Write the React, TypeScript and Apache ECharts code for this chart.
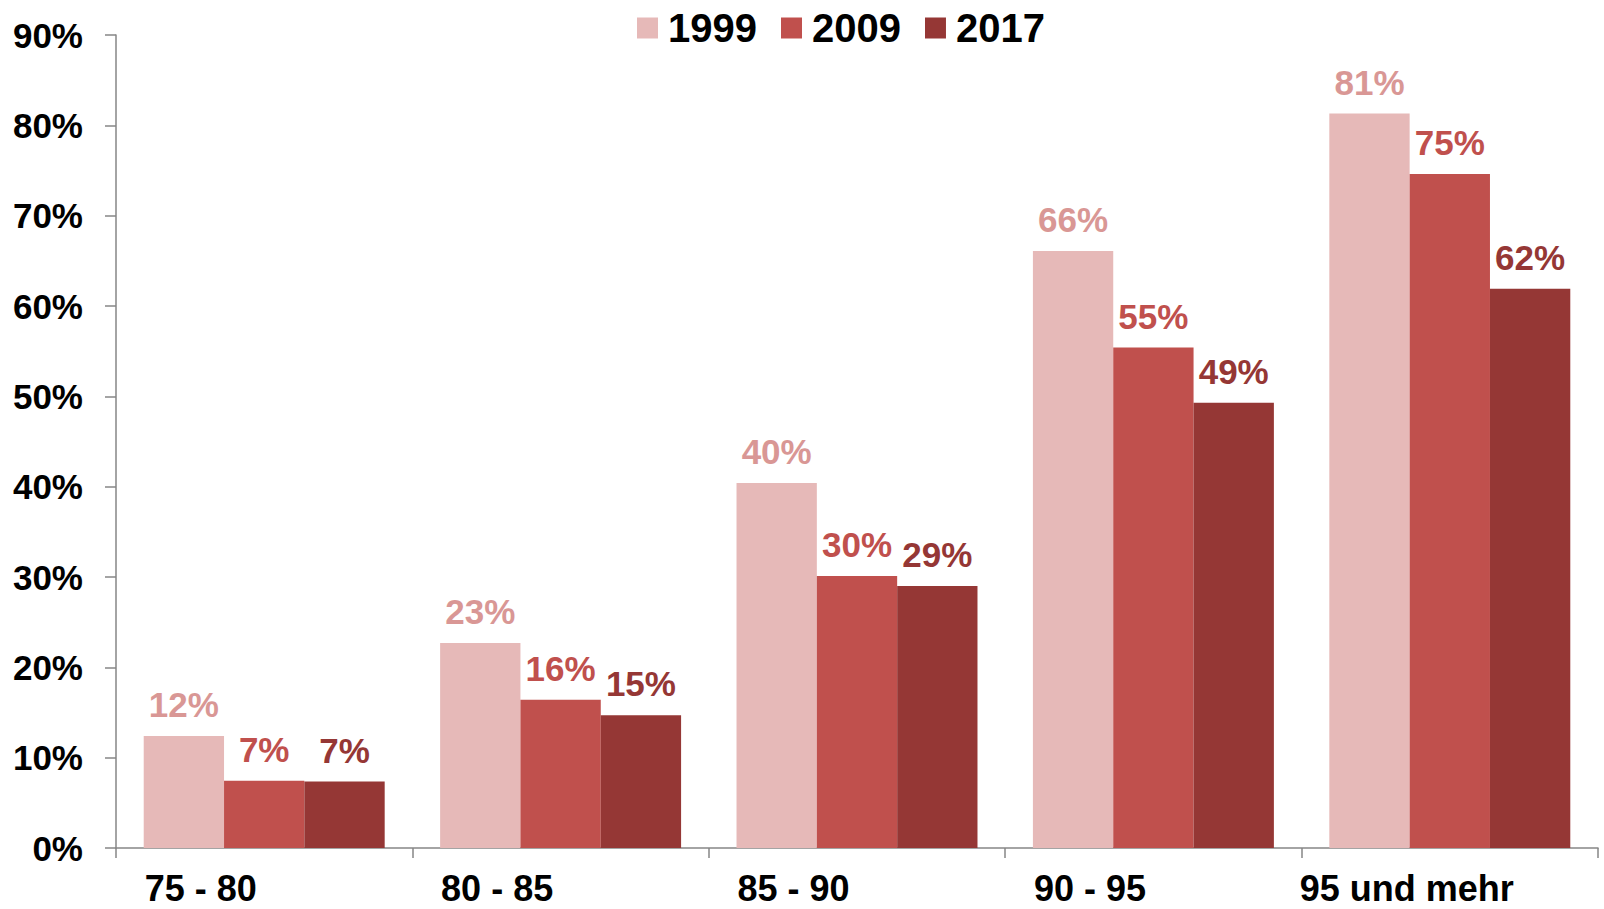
import React, { useEffect, useRef } from "react";
import * as echarts from "echarts";

const categories = ["75 - 80", "80 - 85", "85 - 90", "90 - 95", "95 und mehr"];
const seriesNames = ["1999", "2009", "2017"];
const values1999 = [12.4, 22.7, 40.4, 66.1, 81.3];
const values2009 = [7.45, 16.4, 30.1, 55.4, 74.6];
const values2017 = [7.35, 14.7, 29.0, 49.3, 61.9];
const barColors = ["#E6B9B8", "#C0504D", "#953735"];
const labelColors = ["#D99795", "#C0504D", "#953735"];
const yTicks = [0, 10, 20, 30, 40, 50, 60, 70, 80, 90];

const FONT = "'Liberation Sans', Arial, sans-serif";

export default function App() {
  const ref = useRef<HTMLDivElement>(null);
  useEffect(() => {
    if (!ref.current) return;
    const chart = echarts.init(ref.current, undefined, { renderer: "svg" });
    const allValues = [values1999, values2009, values2017];
    chart.setOption({
      animation: false,
      backgroundColor: "#ffffff",
      textStyle: { fontFamily: FONT },
      legend: {
        left: 632,
        top: 3,
        icon: "rect",
        itemWidth: 21,
        itemHeight: 21,
        itemGap: 24,
        data: seriesNames,
        textStyle: {
          fontFamily: FONT,
          fontWeight: "bold",
          fontSize: 40,
          color: "#000",
          padding: [0, 0, 0, 5],
        },
      },
      grid: { left: 116, right: 6, top: 35, bottom: 61, containLabel: false },
      xAxis: {
        type: "category",
        data: categories,
        axisLine: { lineStyle: { color: "#868686", width: 1.5 } },
        axisTick: { show: true, length: 10, lineStyle: { color: "#868686", width: 1.5 } },
        axisLabel: {
          margin: 22,
          interval: 0,
          formatter: (v: string) =>
            v === categories[categories.length - 1] ? "{b|" + v + "}" : "{a|" + v + "}",
          rich: {
            a: {
              width: 239,
              align: "left",
              fontFamily: FONT,
              fontWeight: "bold",
              fontSize: 36,
              color: "#000",
            },
            b: {
              width: 300,
              align: "left",
              fontFamily: FONT,
              fontWeight: "bold",
              fontSize: 36,
              color: "#000",
            },
          },
        },
      },
      yAxis: {
        type: "value",
        min: yTicks[0],
        max: yTicks[yTicks.length - 1],
        interval: 10,
        splitLine: { show: false },
        axisLine: { show: true, lineStyle: { color: "#868686", width: 1.5 } },
        axisTick: { show: true, length: 11, lineStyle: { color: "#868686", width: 1.5 } },
        axisLabel: {
          margin: 33,
          formatter: "{value}%",
          fontFamily: FONT,
          fontWeight: "bold",
          fontSize: 35,
          color: "#000",
        },
      },
      series: seriesNames.map((name, i) => ({
        name,
        type: "bar",
        data: allValues[i],
        barGap: "0%",
        barCategoryGap: "18.7%",
        itemStyle: { color: barColors[i] },
        label: {
          show: true,
          position: "top",
          distance: 14,
          formatter: (p: any) => Math.round(p.value) + "%",
          fontFamily: FONT,
          fontWeight: "bold",
          fontSize: 35,
          color: labelColors[i],
        },
      })),
    });
    return () => chart.dispose();
  }, []);
  return (
    <div
      ref={ref}
      style={{ position: "fixed", left: 0, top: 0, width: 1604, height: 909 }}
    />
  );
}
